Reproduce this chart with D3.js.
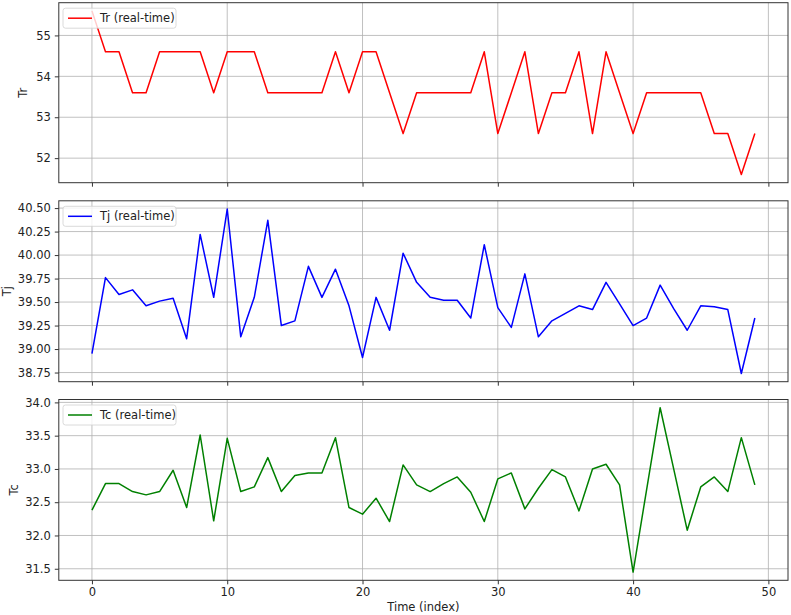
<!DOCTYPE html>
<html>
<head>
<meta charset="utf-8">
<script src="https://cdn.jsdelivr.net/npm/d3@7"></script>
<style>
  body { margin: 0; background: white; }
  svg text { font-family: "DejaVu Sans", sans-serif; }
</style>
</head>
<body>
<div id="chart"></div>
<script>
// data
var tr = [55.6, 54.6, 54.6, 53.6, 53.6, 54.6, 54.6, 54.6, 54.6, 53.6,
          54.6, 54.6, 54.6, 53.6, 53.6, 53.6, 53.6, 53.6, 54.6, 53.6,
          54.6, 54.6, 53.6, 52.6, 53.6, 53.6, 53.6, 53.6, 53.6, 54.6,
          52.6, 53.6, 54.6, 52.6, 53.6, 53.6, 54.6, 52.6, 54.6, 53.6,
          52.6, 53.6, 53.6, 53.6, 53.6, 53.6, 52.6, 52.6, 51.6, 52.6];
var tj = [38.95, 39.76, 39.58, 39.63, 39.46, 39.51, 39.54, 39.11, 40.22, 39.55,
          40.49, 39.13, 39.55, 40.37, 39.25, 39.30, 39.88, 39.55, 39.85, 39.46,
          38.91, 39.55, 39.20, 40.02, 39.71, 39.55, 39.52, 39.52, 39.33, 40.11,
          39.44, 39.23, 39.80, 39.13, 39.30, 39.38, 39.46, 39.42, 39.71, 39.48,
          39.25, 39.33, 39.68, 39.43, 39.20, 39.46, 39.45, 39.42, 38.74, 39.33];
var tc = [32.38, 32.78, 32.78, 32.66, 32.61, 32.66, 32.98, 32.42, 33.51, 32.22,
          33.46, 32.66, 32.73, 33.17, 32.66, 32.90, 32.94, 32.94, 33.47, 32.42,
          32.32, 32.56, 32.21, 33.06, 32.76, 32.66, 32.78, 32.88, 32.65, 32.21,
          32.85, 32.94, 32.40, 32.71, 32.99, 32.88, 32.37, 33.00, 33.07, 32.76,
          31.45, 32.69, 33.92, 33.00, 32.08, 32.73, 32.88, 32.66, 33.47, 32.76];
var xTicks = [0, 10, 20, 30, 40, 50];
var trTicks = [52, 53, 54, 55];
var tjTicks = [38.75, 39.00, 39.25, 39.50, 39.75, 40.00, 40.25, 40.50];
var tcTicks = [31.5, 32.0, 32.5, 33.0, 33.5, 34.0];

var W = 791, H = 615;
var left = 58.8, right = 788;

var svg = d3.select("#chart").append("svg")
    .attr("width", W).attr("height", H);

var x = d3.scaleLinear().domain([-2.45, 51.45]).range([left, right]);

var panels = [
  {data: tr, name: "Tr", color: "#ff0000", top: 2.7, bottom: 182.7, ticks: trTicks, fmt: d3.format(".0f"), labelX: 23},
  {data: tj, name: "Tj", color: "#0000ff", top: 200.8, bottom: 381.7, ticks: tjTicks, fmt: d3.format(".2f"), labelX: 7},
  {data: tc, name: "Tc", color: "#008000", top: 399.5, bottom: 580.3, ticks: tcTicks, fmt: d3.format(".1f"), labelX: 14}
];

panels.forEach(function(p, k) {
  var ext = d3.extent(p.data);
  var pad = (ext[1] - ext[0]) * 0.05;
  var y = d3.scaleLinear().domain([ext[0] - pad, ext[1] + pad]).range([p.bottom, p.top]);
  var g = svg.append("g");

  // grid
  g.selectAll(".gx").data(xTicks).enter().append("line")
    .attr("x1", function(d) { return x(d); }).attr("x2", function(d) { return x(d); })
    .attr("y1", p.top).attr("y2", p.bottom)
    .attr("stroke", "#b0b0b0").attr("stroke-width", 0.8);
  g.selectAll(".gy").data(p.ticks).enter().append("line")
    .attr("x1", left).attr("x2", right)
    .attr("y1", function(d) { return y(d); }).attr("y2", function(d) { return y(d); })
    .attr("stroke", "#b0b0b0").attr("stroke-width", 0.8);

  // line
  var line = d3.line()
    .x(function(d, i) { return x(i); })
    .y(function(d) { return y(d); });
  g.append("path").datum(p.data)
    .attr("d", line)
    .attr("fill", "none")
    .attr("stroke", p.color)
    .attr("stroke-width", 1.5)
    .attr("stroke-linejoin", "round");

  // axes
  var ya = d3.axisLeft(y).tickValues(p.ticks).tickFormat(p.fmt).tickSize(4).tickPadding(4);
  var yg = g.append("g").attr("transform", "translate(" + left + ",0)").call(ya);
  yg.select(".domain").remove();
  yg.selectAll("text").attr("font-size", "11.5px").attr("fill", "#222")
    .attr("font-family", "DejaVu Sans");
  yg.selectAll("line").attr("stroke", "#333");

  var xa = d3.axisBottom(x).tickValues(xTicks).tickSize(4).tickPadding(4)
    .tickFormat(k == 2 ? d3.format("d") : function() { return ""; });
  var xg = g.append("g").attr("transform", "translate(0," + p.bottom + ")").call(xa);
  xg.select(".domain").remove();
  xg.selectAll("text").attr("font-size", "11.5px").attr("fill", "#222")
    .attr("font-family", "DejaVu Sans");
  xg.selectAll("line").attr("stroke", "#333");

  // frame
  g.append("rect")
    .attr("x", left).attr("y", p.top)
    .attr("width", right - left).attr("height", p.bottom - p.top)
    .attr("fill", "none").attr("stroke", "#333").attr("stroke-width", 1);

  // y label
  g.append("text")
    .attr("transform", "translate(" + p.labelX + "," + ((p.top + p.bottom) / 2) + ") rotate(-90)")
    .attr("text-anchor", "middle")
    .attr("dominant-baseline", "central")
    .attr("font-size", "11.5px").attr("fill", "#222")
    .text(p.name);

  // legend
  var lg = g.append("g").attr("transform", "translate(63," + (p.top + 5.5) + ")");
  lg.append("rect")
    .attr("width", 113).attr("height", 20).attr("rx", 2.5)
    .attr("fill", "white").attr("fill-opacity", 0.8)
    .attr("stroke", "#d0d0d0").attr("stroke-width", 0.8);
  lg.append("line")
    .attr("x1", 5).attr("x2", 29).attr("y1", 10).attr("y2", 10)
    .attr("stroke", p.color).attr("stroke-width", 1.5);
  lg.append("text")
    .attr("x", 37).attr("y", 10)
    .attr("dominant-baseline", "central")
    .attr("font-size", "11.5px").attr("fill", "#222")
    .text(p.name + " (real-time)");
});

svg.append("text")
  .attr("x", (left + right) / 2).attr("y", 611)
  .attr("text-anchor", "middle")
  .attr("font-size", "11.5px").attr("fill", "#222")
  .text("Time (index)");
</script>
</body>
</html>
